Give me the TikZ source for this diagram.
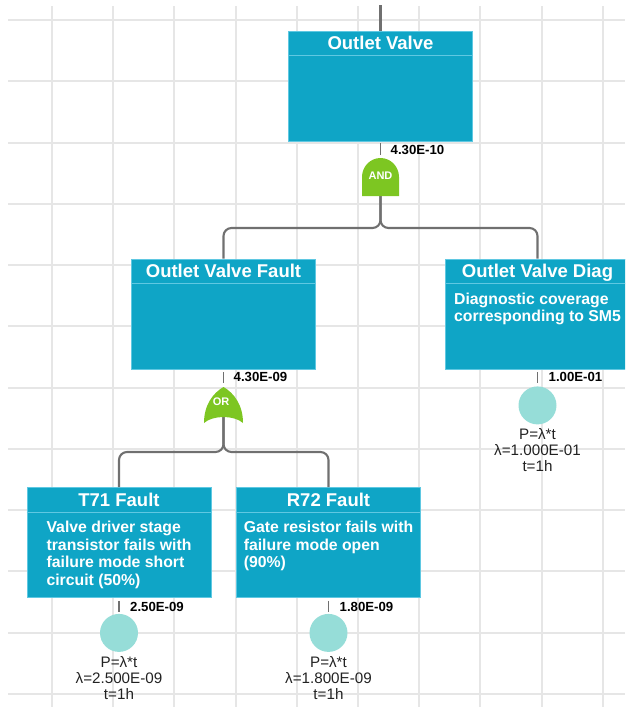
\documentclass[tikz,border=0pt]{standalone}
\usepackage{fontspec}
\setmainfont{Liberation Sans}
\definecolor{boxfill}{RGB}{15,165,198}
\definecolor{boxedge}{RGB}{95,200,226}
\definecolor{gatefill}{RGB}{125,198,34}
\definecolor{eventfill}{RGB}{150,221,216}
\definecolor{connline}{RGB}{112,112,112}
\definecolor{gridline}{RGB}{230,230,230}
\definecolor{txtgray}{RGB}{34,34,34}
\begin{document}
\begin{tikzpicture}[
		x=1pt,y=-1pt,
		box/.style={draw=boxedge,fill=boxfill,line width=0.8pt,minimum width=184pt,minimum height=110pt,inner sep=0pt},
		title/.style={text=white,font=\fontsize{18.5}{21}\selectfont\bfseries,anchor=base},
		body/.style={text=white,font=\fontsize{15.8}{17.6}\selectfont\bfseries,align=left,anchor=north,inner sep=0pt},
		sep/.style={draw=boxedge,line width=0.8pt},
		prob/.style={font=\fontsize{13.2}{15}\selectfont\bfseries,anchor=west,inner sep=0pt},
		event/.style={circle,fill=eventfill,minimum size=38pt,inner sep=0pt},
		calc/.style={font=\fontsize{15.2}{16}\selectfont,text=txtgray,align=center,anchor=north,inner sep=0pt},
		conn/.style={draw=connline,line width=2.1pt,rounded corners=8pt},
		stub/.style={draw=connline,line width=1.8pt},
		gate/.style={fill=gatefill},
		gatetext/.style={text=white,font=\fontsize{11}{13}\selectfont\bfseries,inner sep=0pt},
		grid/.style={draw=gridline,line width=2pt}
		]
		\useasboundingbox (0,0) rectangle (625,707);
		\clip (0,0) rectangle (625,707);
		% background grid
		\foreach \gy in {0,...,11}
			\draw[grid] (8,{20+61.25*\gy}) -- (625,{20+61.25*\gy});
		\foreach \gx in {0,...,9}
			\draw[grid] ({52+61.2*\gx},6) -- ({52+61.2*\gx},707);
		% events
		\node[box] (top) at (380.5,86) {};
		\node[box] (fault) at (223.5,314) {};
		\node[box] (diag) at (537.5,314) {};
		\node[box] (t71) at (119,542.5) {};
		\node[box] (r72) at (328.5,542.5) {};
		\foreach \b in {top,fault,diag,t71,r72}
			\draw[sep] ([yshift=-25pt]\b.north west) -- ([yshift=-25pt]\b.north east);
		\node[title] (top-t) at ([yshift=-19pt]top.north) {Outlet Valve};
		\node[title] (fault-t) at ([yshift=-19pt]fault.north) {Outlet Valve Fault};
		\node[title] (diag-t) at ([yshift=-19pt]diag.north) {Outlet Valve Diag};
		\node[title] (t71-t) at ([yshift=-19pt]t71.north) {T71 Fault};
		\node[title] (r72-t) at ([yshift=-19pt]r72.north) {R72 Fault};
		\node[body] (diag-b) at ([yshift=-34pt]diag.north) {Diagnostic coverage\\corresponding to SM5};
		\node[body] (t71-b) at ([yshift=-34pt]t71.north) {Valve driver stage\\transistor fails with\\failure mode short\\circuit (50\%)};
		\node[body] (r72-b) at ([yshift=-34pt]r72.north) {Gate resistor fails with\\failure mode open\\(90\%)};
		% gates and connectors
		\coordinate (topin) at (380.5,5);
		\coordinate (andg) at (380.5,180);
		\coordinate (andj) at (380.5,228);
		\coordinate (org) at (223.5,405);
		\coordinate (orj) at (223.5,452);
		\draw[conn] (topin) -- (top.north);
		\draw[conn] (andg) -- (andj) -| (fault.north);
		\draw[conn] (andg) -- (andj) -| (diag.north);
		\draw[conn] (org) -- (orj) -| (t71.north);
		\draw[conn] (org) -- (orj) -| (r72.north);
		\fill[gate] (362,196) -- (362,177) arc[start angle=180,end angle=0,x radius=18.5pt,y radius=19pt] -- (399,196) -- cycle;
		\node[gatetext] (and-t) at (380.5,176) {AND};
		\fill[gate] (204,423) .. controls (204,405) and (213,393) .. (223.5,387) .. controls (234,393) and (243,405) .. (243,423) .. controls (234,415) and (213,415) .. cycle;
		\node[gatetext] (or-t) at (221,402) {OR};
		% stubs and values
		\draw[stub] ([yshift=-2pt]top.south) -- ([yshift=-14pt]top.south);
		\draw[stub] ([yshift=-3pt]fault.south) -- ([yshift=-14pt]fault.south);
		\draw[stub] ([yshift=-3pt]diag.south) -- ([yshift=-14pt]diag.south);
		\draw[stub] ([yshift=-3pt]t71.south) -- ([yshift=-14pt]t71.south);
		\draw[stub] ([yshift=-3pt]r72.south) -- ([yshift=-14pt]r72.south);
		\node[prob] (top-p) at ([xshift=10pt,yshift=-9pt]top.south) {4.30E-10};
		\node[prob] (fault-p) at ([xshift=10pt,yshift=-8pt]fault.south) {4.30E-09};
		\node[prob] (diag-p) at ([xshift=11pt,yshift=-8pt]diag.south) {1.00E-01};
		\node[prob] (t71-p) at ([xshift=11pt,yshift=-9pt]t71.south) {2.50E-09};
		\node[prob] (r72-p) at ([xshift=11pt,yshift=-9pt]r72.south) {1.80E-09};
		% basic events
		\node[event] (diag-e) at ([yshift=-36pt]diag.south) {};
		\node[event] (t71-e) at ([yshift=-35pt]t71.south) {};
		\node[event] (r72-e) at ([yshift=-35pt]r72.south) {};
		\node[calc] (diag-c) at ([yshift=-4pt]diag-e.south) {P=λ*t\\λ=1.000E-01\\t=1h};
		\node[calc] (t71-c) at ([yshift=-4pt]t71-e.south) {P=λ*t\\λ=2.500E-09\\t=1h};
		\node[calc] (r72-c) at ([yshift=-4pt]r72-e.south) {P=λ*t\\λ=1.800E-09\\t=1h};
	\end{tikzpicture}
\end{document}
